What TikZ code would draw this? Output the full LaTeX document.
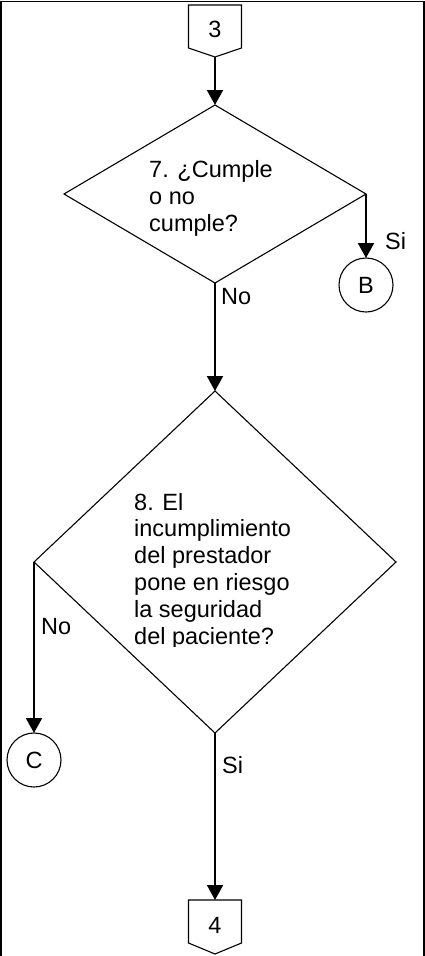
\documentclass[tikz,border=0pt]{standalone}
\usepackage{fontspec}
\setmainfont{Liberation Sans}
\usetikzlibrary{shapes.geometric,arrows.meta,calc}
\begin{document}
\begin{tikzpicture}[x=1pt,y=-1pt,
  shapeline/.style={line width=1.1pt},
  flow/.style={line width=2pt,-{Triangle[length=15pt,width=16pt]}},
  txt/.style={font=\fontsize{23.5}{26.8}\selectfont, inner sep=0pt},
  dec/.style={diamond, draw, line width=1.1pt, inner sep=0pt, outer sep=0pt},
  conn/.style={circle, draw, line width=1.1pt, inner sep=0pt, outer sep=0pt, font=\fontsize{23.5}{26}\selectfont},
  pagebox/.style={rectangle, inner sep=0pt, outer sep=0pt, minimum width=53pt, minimum height=43pt}
]
\useasboundingbox (0,0) rectangle (425,956);
\draw[line width=1.2pt] (1,956) -- (1,1.5) -- (424,1.5) -- (424,956);

% off-page connector 3
\node[pagebox] (p3) at (215,26.5) {};
\coordinate (p3tip) at (215,57);
\draw[shapeline] (p3.north west) -- (p3.north east) -- (p3.south east) -- (p3tip) -- (p3.south west) -- cycle;
\node[txt] (t3) at (215,29.5) {3};

% decisions
\node[dec, minimum width=302pt, minimum height=178pt] (d1) at (215,194) {};
\node[dec, minimum width=362pt, minimum height=342pt] (d2) at (215,562) {};

% connectors
\node[conn, minimum size=54pt] (B) at (366,285) {B};
\node[conn, minimum size=54pt] (C) at (34,760) {C};

% off-page connector 4
\node[pagebox] (p4) at (215,921.5) {};
\coordinate (p4tip) at (215,954);
\draw[shapeline] (p4.north west) -- (p4.north east) -- (p4.south east) -- (p4tip) -- (p4.south west) -- cycle;
\node[txt] (t4) at (215,925) {4};

% texts (base anchor = baseline of the last line)
\begin{scope}
\clip (140,150) rectangle (300,236);
\node[txt, anchor=base west, align=left] (q7) at (149,231) {7. ¿Cumple\\o no\\cumple?};
\end{scope}
\begin{scope}
\clip (125,480) rectangle (310,646);
\node[txt, anchor=base west, align=left] (q8) at (134,644) {8. El\\incumplimiento\\del prestador\\pone en riesgo\\la seguridad\\del paciente?};
\end{scope}

% flows
\draw[flow] (p3tip) -- (d1.north);
\draw[flow] (d1.east) -- (B.north);
\draw[flow] (d1.south) -- (d2.north);
\draw[flow] (d2.west) -- (C.north);
\draw[flow] (d2.south) -- (p4.north);

% labels
\node[txt, anchor=west] (si1) at (385,241) {Si};
\node[txt, anchor=west] (no1) at (221,297) {No};
\node[txt, anchor=west] (no2) at (41,627) {No};
\node[txt, anchor=west] (si2) at (222,765) {Si};
\end{tikzpicture}
\end{document}
